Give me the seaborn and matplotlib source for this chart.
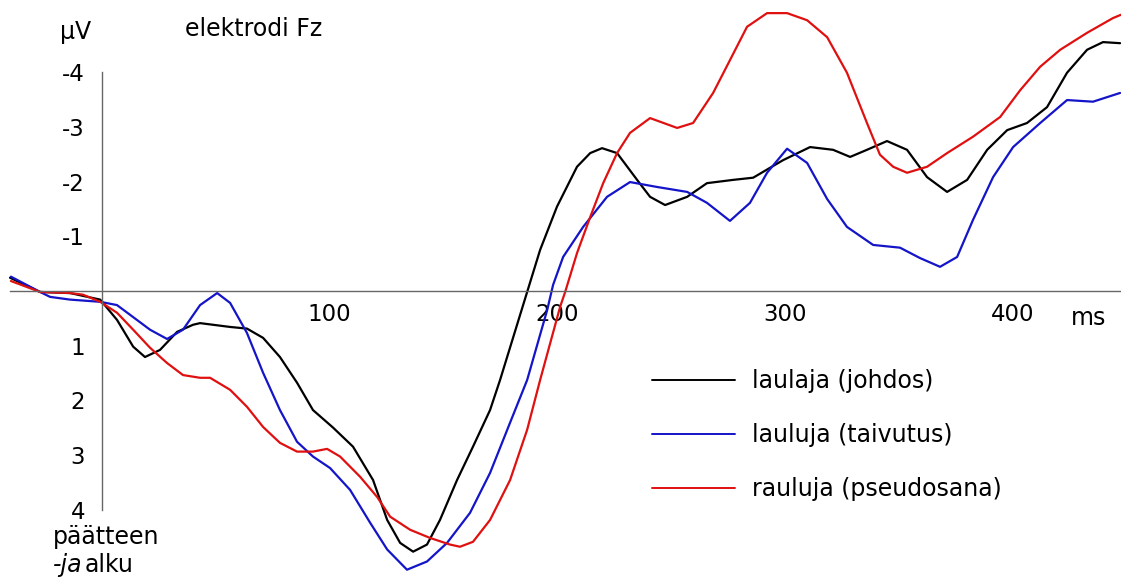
import matplotlib
matplotlib.use('Agg')
import matplotlib.pyplot as plt
import seaborn as sns
import pandas as pd

# ERP data (ms, µV; negative is drawn up)
t_johdos = [-40.3, -27.1, -13.9, -0.7, 6.7, 13.8, 19.0, 25.6, 33.1, 40.1, 43.2, 56.4, 63.8, 70.9,
            78.3, 85.8, 92.8, 101.6, 110.4, 119.2, 125.4, 131.1, 136.8, 142.9, 148.6, 156.1,
            163.1, 170.6, 175.0, 186.9, 192.6, 200.0, 208.8, 214.6, 219.8, 226.4, 235.2, 240.9,
            247.5, 257.2, 265.9, 277.4, 286.2, 299.3, 311.2, 321.3, 328.8, 336.2, 345.0, 353.8,
            362.6, 371.4, 380.2, 389.0, 397.8, 406.5, 415.3, 424.1, 432.9, 439.9, 447.4]
v_johdos = [-0.24, 0.02, 0.04, 0.16, 0.53, 1.02, 1.21, 1.08, 0.75, 0.62, 0.59, 0.66, 0.69, 0.86,
            1.21, 1.68, 2.18, 2.50, 2.85, 3.46, 4.19, 4.61, 4.77, 4.64, 4.19, 3.46,
            2.85, 2.18, 1.63, 0.02, -0.75, -1.54, -2.27, -2.52, -2.61, -2.52, -2.03, -1.72,
            -1.57, -1.72, -1.97, -2.03, -2.07, -2.39, -2.63, -2.58, -2.45, -2.58, -2.74, -2.58,
            -2.08, -1.81, -2.03, -2.58, -2.94, -3.07, -3.36, -3.99, -4.41, -4.55, -4.53]

t_taivutus = [-39.9, -27.1, -22.7, -13.9, -0.7, 6.7, 13.8, 21.2, 28.7, 35.7, 43.2, 50.7, 56.4,
              63.8, 70.9, 78.3, 85.8, 92.8, 100.3, 109.1, 117.9, 125.4, 134.1, 142.9, 151.7,
              161.8, 170.6, 179.4, 186.9, 195.7, 198.3, 202.7, 211.5, 222.0, 232.1, 244.0,
              257.2, 265.9, 276.0, 284.8, 292.3, 301.1, 309.9, 318.7, 327.4, 338.9, 350.7,
              359.5, 368.3, 375.8, 382.8, 391.6, 400.4, 412.3, 424.1, 435.5, 447.4]
v_taivutus = [-0.26, 0.02, 0.11, 0.16, 0.20, 0.26, 0.48, 0.71, 0.88, 0.71, 0.26, 0.04, 0.22,
              0.77, 1.50, 2.18, 2.76, 3.03, 3.24, 3.64, 4.24, 4.73, 5.10, 4.95, 4.61,
              4.06, 3.33, 2.41, 1.63, 0.35, -0.11, -0.62, -1.17, -1.72, -1.99, -1.90,
              -1.81, -1.61, -1.28, -1.61, -2.16, -2.60, -2.34, -1.68, -1.17, -0.84, -0.79,
              -0.60, -0.44, -0.62, -1.30, -2.08, -2.63, -3.07, -3.49, -3.46, -3.62]

t_pseudo = [-39.9, -27.1, -13.9, -8.2, -0.7, 6.7, 13.8, 21.2, 28.7, 35.7, 43.2, 47.6, 56.4, 63.8,
            70.9, 78.3, 85.8, 92.8, 99.0, 104.7, 113.5, 121.0, 126.7, 135.5, 144.3, 153.0,
            157.4, 163.1, 170.6, 179.4, 186.9, 192.6, 201.4, 203.6, 208.8, 214.6, 220.3, 226.4,
            232.1, 240.9, 252.8, 259.8, 268.6, 276.0, 283.5, 292.3, 301.1, 309.9, 318.7, 327.4,
            336.2, 341.9, 347.7, 353.8, 362.6, 371.4, 382.8, 394.7, 403.5, 412.3, 421.1, 432.9,
            444.3, 447.8]
v_pseudo = [-0.18, 0.02, 0.04, 0.07, 0.20, 0.40, 0.71, 1.04, 1.32, 1.54, 1.59, 1.59, 1.81, 2.12,
            2.49, 2.78, 2.94, 2.94, 2.89, 3.03, 3.40, 3.77, 4.13, 4.37, 4.52, 4.64,
            4.68, 4.59, 4.19, 3.46, 2.54, 1.63, 0.29, 0.02, -0.69, -1.35, -1.97, -2.52,
            -2.89, -3.16, -2.98, -3.07, -3.62, -4.22, -4.83, -5.08, -5.08, -4.95, -4.64, -3.99,
            -3.07, -2.49, -2.27, -2.16, -2.27, -2.52, -2.82, -3.18, -3.67, -4.10, -4.41, -4.72,
            -4.99, -5.05]

labels = ['laulaja (johdos)', 'lauluja (taivutus)', 'rauluja (pseudosana)']
colors = ['#000000', '#1414c8', '#e01010']

x_ticks = [100, 200, 300, 400]
y_ticks = [-4, -3, -2, -1, 1, 2, 3, 4]

sns.set_style('white')
plt.rcParams['font.family'] = ['DejaVu Sans']
plt.rcParams['text.color'] = 'black'
plt.rcParams['xtick.color'] = 'black'
plt.rcParams['ytick.color'] = 'black'

fig = plt.figure(figsize=(11.21, 5.79), dpi=100)
ax = fig.add_axes([0, 0, 1, 1])

series = [(t_johdos, v_johdos), (t_taivutus, v_taivutus), (t_pseudo, v_pseudo)]
for (t, v), lab, col in zip(series, labels, colors):
    df = pd.DataFrame({'ms': t, 'uV': v})
    sns.lineplot(data=df, x='ms', y='uV', color=col, linewidth=1.6, label=lab,
                 sort=False, estimator=None, ax=ax)

ax.set_xlim(-44.7, 447.8)
ax.set_ylim(5.27, -5.32)

# axes crossing at zero
for side in ['top', 'right']:
    ax.spines[side].set_visible(False)
ax.spines['left'].set_position(('data', 0))
ax.spines['bottom'].set_position(('data', 0))
ax.spines['left'].set_bounds(-4, 4)
ax.spines['bottom'].set_bounds(-40.5, 447.8)
for side in ['left', 'bottom']:
    ax.spines[side].set_color('#666666')
    ax.spines[side].set_linewidth(1.0)

ax.set_xticks(x_ticks)
ax.set_xticklabels([str(x) for x in x_ticks])
ax.set_yticks(y_ticks)
ax.set_yticklabels([str(y) for y in y_ticks])
ax.tick_params(axis='x', direction='in', length=10, width=0.8, color='#666666',
               labelcolor='black', labelsize=16.5, pad=9)
ax.tick_params(axis='y', direction='in', length=3, width=0.8, color='#999999',
               labelcolor='black', labelsize=16.5, pad=12)
ax.set_xlabel('')
ax.set_ylabel('')

fs = 17
fig.text(60 / 1121, 1 - 32 / 579, 'µV', fontsize=fs, ha='left', va='center')
fig.text(185 / 1121, 1 - 29 / 579, 'elektrodi Fz', fontsize=fs, ha='left', va='center')
fig.text(1071 / 1121, 1 - 318 / 579, 'ms', fontsize=fs, ha='left', va='center')
fig.text(53 / 1121, 1 - 537 / 579, 'päätteen', fontsize=fs, ha='left', va='center')
fig.text(53 / 1121, 1 - 565 / 579, '-ja', fontsize=fs, ha='left', va='center', style='italic')
fig.text(85 / 1121, 1 - 565 / 579, 'alku', fontsize=fs, ha='left', va='center')

leg = ax.legend(loc='upper left', bbox_to_anchor=(652 / 1121, 1 - 369 / 579),
                frameon=False, fontsize=fs, handlelength=3.5, handletextpad=0.72,
                labelspacing=1.27, borderpad=0, borderaxespad=0)
for h in leg.get_lines():
    h.set_linewidth(1.4)

fig.savefig('out.png', dpi=100)
